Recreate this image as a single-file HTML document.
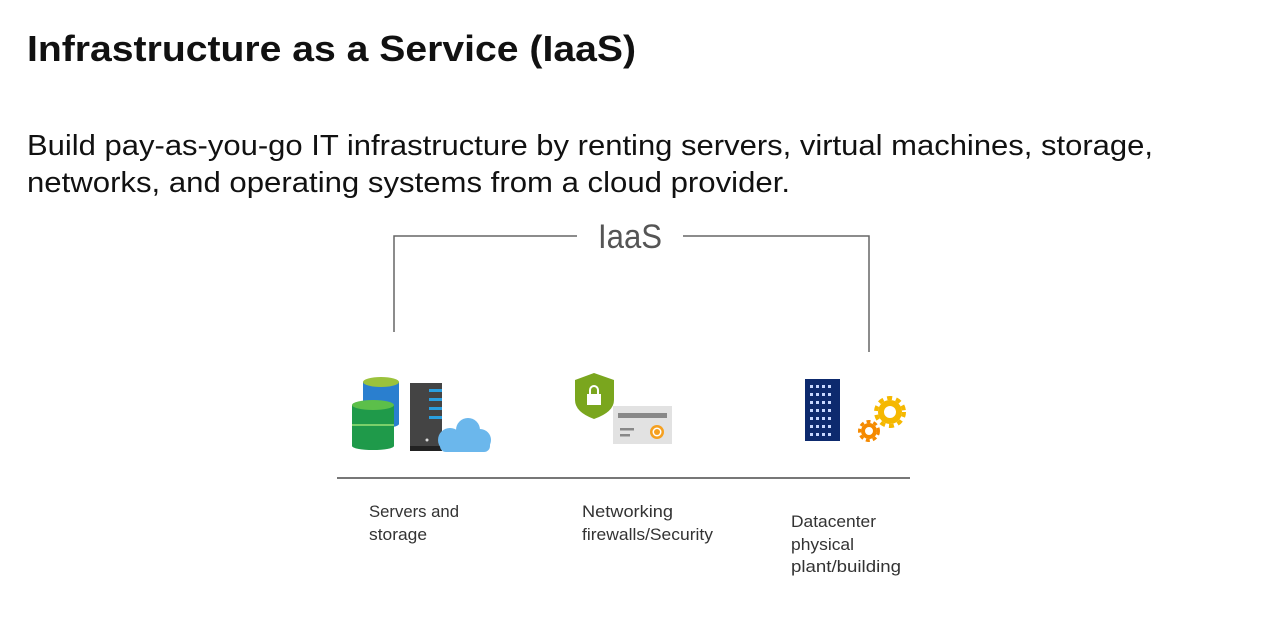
<!DOCTYPE html>
<html><head><meta charset="utf-8"><style>
html,body{margin:0;padding:0;background:#fff;width:1280px;height:643px;overflow:hidden}
svg{display:block}
text{font-family:"Liberation Sans",sans-serif}
</style></head><body>
<svg width="1280" height="643" viewBox="0 0 1280 643" xmlns="http://www.w3.org/2000/svg">
<rect width="1280" height="643" fill="#fff"/>
<text x="27" y="61" font-size="36" font-weight="bold" fill="#111" textLength="609" lengthAdjust="spacingAndGlyphs">Infrastructure as a Service (IaaS)</text>
<text x="27" y="155" font-size="29" fill="#111" textLength="1126" lengthAdjust="spacingAndGlyphs">Build pay-as-you-go IT infrastructure by renting servers, virtual machines, storage,</text>
<text x="27" y="192" font-size="29" fill="#111" textLength="763" lengthAdjust="spacingAndGlyphs">networks, and operating systems from a cloud provider.</text>

<!-- bracket -->
<polyline points="394,332 394,236 577,236" fill="none" stroke="#666" stroke-width="1.5"/>
<polyline points="683,236 869,236 869,352" fill="none" stroke="#666" stroke-width="1.5"/>
<text x="598" y="248" font-size="34" fill="#555" textLength="64" lengthAdjust="spacingAndGlyphs">IaaS</text>

<!-- baseline -->
<line x1="337" y1="478" x2="910" y2="478" stroke="#777" stroke-width="2"/>

<!-- servers & storage -->
<rect x="363" y="382" width="36" height="42" fill="#2a7fcf"/>
<ellipse cx="381" cy="424" rx="18" ry="4" fill="#2a7fcf"/>
<ellipse cx="381" cy="382" rx="18" ry="5" fill="#9bc23c"/>
<rect x="352" y="405" width="42" height="41" fill="#1f9a4a"/>
<ellipse cx="373" cy="446" rx="21" ry="4" fill="#1f9a4a"/>
<ellipse cx="373" cy="405" rx="21" ry="5" fill="#5cbf4a"/>
<line x1="352" y1="425" x2="394" y2="425" stroke="#7ad06a" stroke-width="2"/>
<rect x="410" y="383" width="32" height="68" fill="#444"/>
<rect x="410" y="446" width="32" height="5" fill="#222"/>
<rect x="429" y="389" width="13" height="3" fill="#2a9fe0"/>
<rect x="429" y="398" width="13" height="3" fill="#2a9fe0"/>
<rect x="429" y="407" width="13" height="3" fill="#2a9fe0"/>
<rect x="429" y="416" width="13" height="3" fill="#2a9fe0"/>
<circle cx="427" cy="440" r="1.5" fill="#ddd"/>
<g fill="#6bb7ec">
<circle cx="450" cy="440" r="12"/><circle cx="468" cy="430" r="12"/><circle cx="480" cy="440" r="11"/>
<rect x="440" y="438" width="50" height="14" rx="6"/>
</g>

<!-- networking -->
<path d="M575,380 L594,373 L614,380 L614,400 Q614,412 594,419 Q575,412 575,400 Z" fill="#7aa61e"/>
<rect x="587" y="394" width="14" height="11" fill="#fff"/>
<path d="M590,394 v-4 a4,4 0 0 1 8,0 v4" fill="none" stroke="#fff" stroke-width="2"/>
<rect x="613" y="406" width="59" height="38" fill="#e2e2e2"/>
<rect x="618" y="413" width="49" height="5" fill="#888"/>
<rect x="620" y="428" width="14" height="2.5" fill="#888"/>
<rect x="620" y="434" width="10" height="2.5" fill="#888"/>
<circle cx="657" cy="432" r="7" fill="#f5a020"/>
<circle cx="657" cy="432" r="4.5" fill="#fff"/>
<circle cx="657" cy="432" r="3" fill="#f5a020"/>

<!-- datacenter -->
<rect x="805" y="379" width="35" height="62" fill="#0d2a6e"/>
<g fill="#c8d8ff">
<rect x="810" y="385" width="3" height="3"/><rect x="816" y="385" width="3" height="3"/><rect x="822" y="385" width="3" height="3"/><rect x="828" y="385" width="3" height="3"/>
<rect x="810" y="393" width="3" height="3"/><rect x="816" y="393" width="3" height="3"/><rect x="822" y="393" width="3" height="3"/><rect x="828" y="393" width="3" height="3"/>
<rect x="810" y="401" width="3" height="3"/><rect x="816" y="401" width="3" height="3"/><rect x="822" y="401" width="3" height="3"/><rect x="828" y="401" width="3" height="3"/>
<rect x="810" y="409" width="3" height="3"/><rect x="816" y="409" width="3" height="3"/><rect x="822" y="409" width="3" height="3"/><rect x="828" y="409" width="3" height="3"/>
<rect x="810" y="417" width="3" height="3"/><rect x="816" y="417" width="3" height="3"/><rect x="822" y="417" width="3" height="3"/><rect x="828" y="417" width="3" height="3"/>
<rect x="810" y="425" width="3" height="3"/><rect x="816" y="425" width="3" height="3"/><rect x="822" y="425" width="3" height="3"/><rect x="828" y="425" width="3" height="3"/>
<rect x="810" y="433" width="3" height="3"/><rect x="816" y="433" width="3" height="3"/><rect x="822" y="433" width="3" height="3"/><rect x="828" y="433" width="3" height="3"/>
</g>
<g fill="none" stroke="#f5b800">
<circle cx="890" cy="412" r="9" stroke-width="6"/>
<circle cx="890" cy="412" r="14" stroke-width="4" stroke-dasharray="5 4"/>
</g>
<g fill="none" stroke="#f58a00">
<circle cx="869" cy="431" r="6" stroke-width="4"/>
<circle cx="869" cy="431" r="9.5" stroke-width="3" stroke-dasharray="4 3"/>
</g>

<!-- labels -->
<g font-size="17" fill="#333">
<text x="369" y="517" textLength="90" lengthAdjust="spacingAndGlyphs">Servers and</text>
<text x="369" y="540" textLength="58" lengthAdjust="spacingAndGlyphs">storage</text>
<text x="582" y="517" textLength="91" lengthAdjust="spacingAndGlyphs">Networking</text>
<text x="582" y="540" textLength="131" lengthAdjust="spacingAndGlyphs">firewalls/Security</text>
<text x="791" y="527" textLength="85" lengthAdjust="spacingAndGlyphs">Datacenter</text>
<text x="791" y="550" textLength="63" lengthAdjust="spacingAndGlyphs">physical</text>
<text x="791" y="572" textLength="110" lengthAdjust="spacingAndGlyphs">plant/building</text>
</g>
</svg>
</body></html>
